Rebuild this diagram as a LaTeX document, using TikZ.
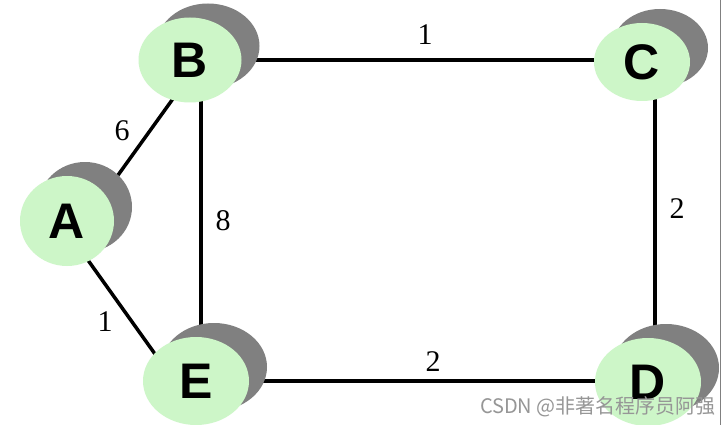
\documentclass[tikz,border=0pt]{standalone}
\usepackage{fontspec}
\setmainfont{Liberation Serif}
\newfontfamily\lettfont{Liberation Sans}
\newfontfamily\cjkfont{Noto Sans CJK SC}
\usetikzlibrary{shapes.geometric,shadows,backgrounds}
\definecolor{nodegreen}{RGB}{205,246,200}
\definecolor{shadowgray}{RGB}{128,128,128}
\definecolor{wmgray}{RGB}{150,150,150}
\tikzset{
  vert/.style={ellipse, fill=nodegreen, inner sep=0pt,
    font=\lettfont\bfseries\fontsize{50}{50}\selectfont,
    drop shadow={shadow xshift=18pt, shadow yshift=14pt, fill=shadowgray, opacity=1}},
  edge/.style={line width=3.5pt, black},
  wlabel/.style={font=\fontsize{30}{30}\selectfont, inner sep=0pt}
}
\begin{document}
\begin{tikzpicture}[x=1pt,y=-1pt]
\useasboundingbox (0,0) rectangle (722,425);
\node[vert, minimum width=94pt, minimum height=90pt] (A) at (67,221) {A};
\node[vert, minimum width=103pt, minimum height=85pt] (B) at (190,60) {B};
\node[vert, minimum width=96pt, minimum height=78pt] (C) at (642,62) {C};
\node[vert, minimum width=106pt, minimum height=88pt] (D) at (648,382) {D};
\node[vert, minimum width=106pt, minimum height=88pt] (E) at (196,381) {E};
\begin{scope}[on background layer]
\fill[white] (0,0) rectangle (722,425);
\draw[edge] (B) -- ([yshift=2pt]C.center);
\draw[edge] ([xshift=13pt]C.center) -- ([xshift=7pt]D.center);
\draw[edge] (E.center) -- ([yshift=1pt]D.center);
\draw[edge] ([xshift=11pt]B.center) -- ([xshift=5pt]E.center);
\draw[edge] ([xshift=13pt,yshift=-7pt]A.center) -- ([xshift=-5pt,yshift=-22pt]B.center);
\draw[edge] ([xshift=8pt,yshift=-21pt]A.center) -- ([xshift=-16pt,yshift=-8pt]E.center);
\end{scope}
\node[wlabel] (l1) at (425,35) {1};
\node[wlabel] (l6) at (122,131) {6};
\node[wlabel] (l8) at (223,221) {8};
\node[wlabel] (l2a) at (677,209) {2};
\node[wlabel] (l2b) at (433,362) {2};
\node[wlabel] (l1b) at (105,322) {1};
\node[anchor=east, inner sep=0pt, text=wmgray, font=\cjkfont\fontsize{20}{20}\selectfont] (wm) at (716,407) {CSDN @非著名程序员阿强};
\draw[line width=1.5pt, shadowgray] (720.5,0) -- (720.5,425);
\end{tikzpicture}
\end{document}
